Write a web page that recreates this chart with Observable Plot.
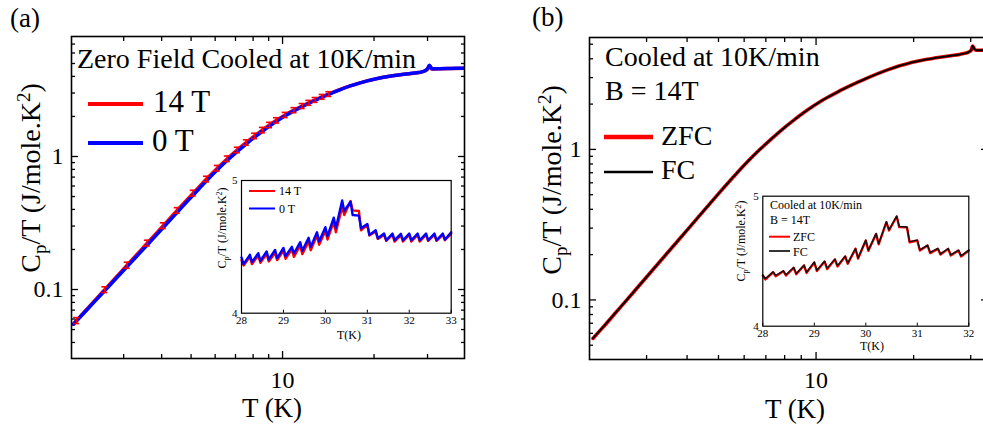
<!DOCTYPE html>
<html><head><meta charset="utf-8">
<script src="https://cdn.jsdelivr.net/npm/d3@7"></script>
<script src="https://cdn.jsdelivr.net/npm/@observablehq/plot@0.6"></script>
<style>
body{margin:0;background:#fff;}
#wrap{position:relative;width:983px;height:426px;overflow:hidden;background:#fff;font-family:'Liberation Serif',serif;}
</style></head><body><div id="wrap"></div>
<script>
// ---------------- data ----------------
// panel (a) main curves
const T_a = [2.05, 2.10, 2.2, 2.4, 2.60, 2.8, 3.08, 3.3, 3.59, 3.8, 4.05, 4.25, 4.50, 4.8, 5.08, 5.35, 5.62, 6.10, 6.58, 7.10, 7.60, 8.09, 8.58, 9.06, 9.55, 10.2, 10.9, 11.6, 12.2, 12.8, 13.5, 14.2, 15.5, 16.7, 18.0, 19.0, 20.5, 22.0, 24.4, 26.0, 27.7, 28.5, 29.3, 29.8, 30.1, 30.4, 30.7, 31.0, 31.5, 33.0, 35.0, 37.0, 39.7];
const C_a14 = [0.0550, 0.0585, 0.0657, 0.0817, 0.0998, 0.1201, 0.1524, 0.1811, 0.2236, 0.2577, 0.3022, 0.3409, 0.3933, 0.4616, 0.5307, 0.6017, 0.6773, 0.8174, 0.9621, 1.1202, 1.2748, 1.4284, 1.5805, 1.7263, 1.8702, 2.0535, 2.231, 2.397, 2.533, 2.664, 2.810, 2.948, 3.190, 3.391, 3.579, 3.701, 3.850, 3.972, 4.114, 4.188, 4.255, 4.30, 4.38, 4.47, 4.58, 4.82, 4.72, 4.55, 4.55, 4.56, 4.58, 4.59, 4.60];
const C_a0 = [0.0548, 0.0582, 0.0652, 0.0808, 0.0982, 0.1178, 0.1488, 0.1764, 0.2172, 0.2500, 0.2928, 0.3300, 0.3806, 0.4466, 0.5138, 0.5830, 0.6570, 0.7940, 0.9360, 1.0920, 1.2450, 1.3970, 1.5480, 1.6930, 1.8370, 2.0220, 2.2030, 2.3720, 2.5120, 2.6470, 2.7970, 2.9400, 3.1860, 3.3900, 3.5800, 3.7030, 3.8530, 3.9760, 4.1200, 4.1950, 4.2650, 4.3100, 4.3900, 4.5000, 4.6300, 4.8500, 4.7000, 4.5600, 4.5600, 4.5700, 4.5900, 4.6000, 4.6100];
// error bars on the 14 T curve
const errT = [2.10, 2.60, 3.08, 3.59, 4.05, 4.50, 5.08, 5.62, 6.10, 6.58, 7.10, 7.60, 8.09, 8.58, 9.06, 9.55, 10.2, 10.9, 11.6, 12.2, 12.8, 13.5, 14.2];
const errD = [0.003, 0.005, 0.008, 0.011, 0.015, 0.019, 0.026, 0.033, 0.039, 0.046, 0.053, 0.060, 0.067, 0.074, 0.080, 0.086, 0.092, 0.098, 0.104, 0.108, 0.112, 0.116, 0.120];

// panel (b) main curves
const T_b = [2.05, 2.2, 2.4, 2.6, 2.8, 3.08, 3.3, 3.59, 3.8, 4.05, 4.5, 5.08, 5.62, 6.1, 6.58, 7.1, 7.6, 8.09, 8.58, 9.06, 9.55, 10.2, 10.9, 11.6, 12.2, 12.8, 13.5, 14.2, 15.5, 16.7, 18, 19, 20.5, 22, 24.4, 26, 27.7, 28.5, 29.3, 29.8, 30.1, 30.4, 30.7, 31.0, 31.5, 32.2, 33.0];
const C_bZFC = [0.0555, 0.0657, 0.0815, 0.0993, 0.1195, 0.1515, 0.1800, 0.2220, 0.2560, 0.3000, 0.3910, 0.5280, 0.6740, 0.8150, 0.9600, 1.1180, 1.2730, 1.4270, 1.5790, 1.7250, 1.8690, 2.0520, 2.2300, 2.3950, 2.5310, 2.6620, 2.8080, 2.9460, 3.1880, 3.3900, 3.5780, 3.7000, 3.8500, 3.9720, 4.1150, 4.1950, 4.2700, 4.3300, 4.4000, 4.4800, 4.5600, 4.8600, 4.7000, 4.5800, 4.5600, 4.5600, 4.5700];
const C_bFC  = [0.0557, 0.0659, 0.0817, 0.0995, 0.1197, 0.1518, 0.1803, 0.2223, 0.2563, 0.3004, 0.3914, 0.5285, 0.6745, 0.8155, 0.9605, 1.1185, 1.2735, 1.4275, 1.5795, 1.7255, 1.8695, 2.0525, 2.2305, 2.3955, 2.5315, 2.6625, 2.8085, 2.9465, 3.1885, 3.3905, 3.5785, 3.7005, 3.8505, 3.9725, 4.1155, 4.1955, 4.2705, 4.3305, 4.4005, 4.4805, 4.5605, 4.8605, 4.7005, 4.5805, 4.5605, 4.5605, 4.5705];

// inset (a)
const T_ia = [28.00, 28.05, 28.20, 28.25, 28.40, 28.45, 28.60, 28.65, 28.80, 28.85, 29.00, 29.05, 29.20, 29.25, 29.40, 29.45, 29.60, 29.65, 29.80, 29.85, 30.00, 30.05, 30.20, 30.25, 30.40, 30.45, 30.60, 30.65, 30.80, 30.85, 31.00, 31.05, 31.20, 31.25, 31.40, 31.45, 31.60, 31.65, 31.80, 31.85, 32.00, 32.05, 32.20, 32.25, 32.40, 32.45, 32.60, 32.65, 32.80, 32.85, 33.00];
const C_ia0 = [4.42, 4.37, 4.44, 4.385, 4.452, 4.395, 4.465, 4.405, 4.477, 4.415, 4.492, 4.43, 4.50, 4.45, 4.535, 4.47, 4.568, 4.50, 4.61, 4.54, 4.648, 4.58, 4.72, 4.64, 4.85, 4.77, 4.84, 4.74, 4.735, 4.64, 4.673, 4.59, 4.625, 4.565, 4.60, 4.55, 4.60, 4.55, 4.598, 4.55, 4.60, 4.55, 4.60, 4.55, 4.60, 4.55, 4.60, 4.55, 4.60, 4.555, 4.61];
const C_ia14 = [4.40, 4.36, 4.425, 4.37, 4.435, 4.38, 4.445, 4.39, 4.455, 4.40, 4.47, 4.41, 4.48, 4.425, 4.51, 4.445, 4.54, 4.475, 4.585, 4.515, 4.62, 4.555, 4.69, 4.61, 4.80, 4.74, 4.845, 4.775, 4.77, 4.625, 4.665, 4.585, 4.615, 4.56, 4.59, 4.545, 4.59, 4.54, 4.588, 4.54, 4.59, 4.54, 4.59, 4.54, 4.59, 4.545, 4.59, 4.545, 4.59, 4.55, 4.60];

// inset (b)
const T_ib = [28.00, 28.05, 28.20, 28.25, 28.40, 28.45, 28.60, 28.65, 28.80, 28.85, 29.00, 29.05, 29.20, 29.25, 29.40, 29.45, 29.60, 29.65, 29.80, 29.85, 30.00, 30.05, 30.20, 30.25, 30.40, 30.45, 30.60, 30.65, 30.80, 30.85, 31.00, 31.05, 31.20, 31.25, 31.40, 31.45, 31.60, 31.65, 31.80, 31.85, 32.00];
const C_ibZFC = [4.39, 4.36, 4.415, 4.385, 4.423, 4.39, 4.449, 4.40, 4.467, 4.41, 4.49, 4.425, 4.497, 4.44, 4.513, 4.46, 4.536, 4.48, 4.595, 4.52, 4.659, 4.58, 4.71, 4.63, 4.80, 4.736, 4.844, 4.762, 4.76, 4.646, 4.659, 4.582, 4.62, 4.562, 4.595, 4.551, 4.595, 4.544, 4.582, 4.536, 4.582];
const C_ibFC  = [4.393, 4.365, 4.418, 4.39, 4.426, 4.395, 4.452, 4.405, 4.47, 4.415, 4.493, 4.43, 4.50, 4.445, 4.516, 4.465, 4.539, 4.485, 4.598, 4.525, 4.662, 4.585, 4.713, 4.635, 4.803, 4.741, 4.847, 4.767, 4.763, 4.651, 4.662, 4.587, 4.623, 4.567, 4.598, 4.556, 4.598, 4.549, 4.585, 4.541, 4.585];

// ticks
const xMinorTicks = [3, 4, 5, 6, 7, 8, 9, 20, 30];
const xMajorTicks = [10];
const yMinorA = [0.04, 0.05, 0.06, 0.07, 0.08, 0.09, 0.2, 0.3, 0.4, 0.5, 0.6, 0.7, 0.8, 0.9, 2, 3, 4, 5, 6, 7];
const yMinorB = [0.05, 0.06, 0.07, 0.08, 0.09, 0.2, 0.3, 0.4, 0.5, 0.6, 0.7, 0.8, 0.9, 2, 3, 4, 5];
const yMajorTicks = [0.1, 1];
const insetXA = [28, 29, 30, 31, 32, 33];
const insetXB = [28, 29, 30, 31, 32];
const insetY = [4, 5];

// ---------------- build ----------------
const fam = "'Liberation Serif', serif";
const wrap = document.getElementById("wrap");
function place(node, left, top) {
  node.style.position = "absolute";
  node.style.left = left + "px";
  node.style.top = top + "px";
  wrap.appendChild(node);
}
const rows = (T, C) => T.map((t, i) => ({T: t, C: C[i]}));
const fmt = d => String(d);

function mainAxes(yMinor, xPad, yPad) {
  const tk = {label: null, fill: "none", stroke: "black", strokeWidth: 1.3};
  return [
    Plot.axisX(xMinorTicks, {...tk, anchor: "bottom", tickSize: -4}),
    Plot.axisX(xMinorTicks, {...tk, anchor: "top", tickSize: -4}),
    Plot.axisX(xMajorTicks, {...tk, anchor: "bottom", tickSize: -7}),
    Plot.axisX(xMajorTicks, {...tk, anchor: "top", tickSize: -7}),
    Plot.axisY(yMinor, {...tk, anchor: "left", tickSize: -4}),
    Plot.axisY(yMinor, {...tk, anchor: "right", tickSize: -4}),
    Plot.axisY(yMajorTicks, {...tk, anchor: "left", tickSize: -7}),
    Plot.axisY(yMajorTicks, {...tk, anchor: "right", tickSize: -7}),
    Plot.axisX(xMajorTicks, {anchor: "bottom", tickSize: 0, tickPadding: xPad, fontSize: 24, label: null, fill: "black", tickFormat: fmt}),
    Plot.axisY(yMajorTicks, {anchor: "left", tickSize: 0, tickPadding: yPad, fontSize: 24, label: null, fill: "black", tickFormat: fmt})
  ];
}

// panel (a)
const a14 = rows(T_a, C_a14);
const a0 = rows(T_a, C_a0);
const cMap = new Map(a14.map(d => [d.T, d.C]));
const errRows = errT.map((t, i) => ({T: t, lo: cMap.get(t) - errD[i], hi: cMap.get(t) + errD[i]}));

const plotA = Plot.plot({
  width: 490, height: 426,
  marginLeft: 71, marginRight: 26, marginTop: 36, marginBottom: 68,
  x: {type: "log", domain: [2.02, 39.7], axis: null},
  y: {type: "log", domain: [0.0303, 7.98], axis: null},
  style: {background: "transparent", fontFamily: fam, overflow: "visible", color: "black"},
  marks: [
    Plot.line(a14, {x: "T", y: "C", stroke: "#ff0000", strokeWidth: 3.5, clip: true, curve: "monotone-x"}),
    Plot.line(a0, {x: "T", y: "C", stroke: "#0000ff", strokeWidth: 3.5, clip: true, curve: "monotone-x"}),
    Plot.ruleX(errRows, {x: "T", y1: "lo", y2: "hi", stroke: "#ff0000", strokeWidth: 1.6}),
    Plot.ruleY(errRows, {x1: "T", x2: "T", y: "hi", insetLeft: -3, insetRight: -3, stroke: "#ff0000", strokeWidth: 1.6}),
    Plot.ruleY(errRows, {x1: "T", x2: "T", y: "lo", insetLeft: -3, insetRight: -3, stroke: "#ff0000", strokeWidth: 1.6}),
    Plot.frame({stroke: "black", strokeWidth: 1.6}),
    ...mainAxes(yMinorA, 12, 8)
  ]
});
place(plotA, 0, 0);

// panel (b)
const plotB = Plot.plot({
  width: 505, height: 426,
  marginLeft: 99, marginRight: 8, marginTop: 37, marginBottom: 67,
  x: {type: "log", domain: [2.0, 33.8], axis: null},
  y: {type: "log", domain: [0.0402, 5.54], axis: null},
  style: {background: "transparent", fontFamily: fam, overflow: "visible", color: "black"},
  marks: [
    Plot.line(rows(T_b, C_bZFC), {x: "T", y: "C", stroke: "#ff0000", strokeWidth: 3.6, clip: true, curve: "monotone-x"}),
    Plot.line(rows(T_b, C_bFC), {x: "T", y: "C", stroke: "#000000", strokeWidth: 2.0, clip: true, curve: "monotone-x"}),
    Plot.frame({stroke: "black", strokeWidth: 1.6}),
    ...mainAxes(yMinorB, 11, 8)
  ]
});
place(plotB, 490, 0);

// insets
function inset(w, h, ml, mr, mt, mb, xdom, xt, series) {
  return Plot.plot({
    width: w, height: h, marginLeft: ml, marginRight: mr, marginTop: mt, marginBottom: mb,
    x: {domain: xdom, axis: null},
    y: {domain: [4, 5], axis: null},
    style: {background: "transparent", fontFamily: fam, overflow: "visible", color: "black"},
    marks: [
      Plot.frame({fill: "white", stroke: "none"}),
      ...series,
      Plot.frame({stroke: "black", strokeWidth: 1.2}),
      Plot.axisX(xt, {anchor: "bottom", tickSize: -3, fill: "none", label: null, stroke: "black"}),
      Plot.axisX(xt, {anchor: "bottom", tickSize: 0, tickPadding: 3, fontSize: 11, label: null, fill: "black", tickFormat: fmt}),
      Plot.axisY(insetY, {anchor: "left", tickSize: 0, tickPadding: 4, fontSize: 11, label: null, fill: "black", tickFormat: fmt})
    ]
  });
}
const insetA = inset(270, 175, 41, 19.3, 10, 32.3, [28, 33], insetXA, [
  Plot.line(rows(T_ia, C_ia14), {x: "T", y: "C", stroke: "#ff0000", strokeWidth: 2.4}),
  Plot.line(rows(T_ia, C_ia0), {x: "T", y: "C", stroke: "#0000ff", strokeWidth: 2.4})
]);
place(insetA, 200, 170);
const insetB = inset(283, 175, 62.3, 14.7, 10.7, 34.3, [28, 32], insetXB, [
  Plot.line(rows(T_ib, C_ibZFC), {x: "T", y: "C", stroke: "#ff0000", strokeWidth: 2.4}),
  Plot.line(rows(T_ib, C_ibFC), {x: "T", y: "C", stroke: "#111111", strokeWidth: 1.4})
]);
place(insetB, 700, 185);

// ---------------- text overlay ----------------
const ylab = (x, y, fs, sub, shift) =>
  `<text transform="translate(${x},${y}) rotate(-90)" text-anchor="middle" font-size="${fs}">C<tspan font-size="${sub}" dy="${shift}">p</tspan><tspan dy="${-shift}">/T (J/mole.K</tspan><tspan font-size="${sub}" dy="${-shift * 1.7}">2</tspan><tspan dy="${shift * 1.7}">)</tspan></text>`;
const svgNS = "http://www.w3.org/2000/svg";
const ov = document.createElementNS(svgNS, "svg");
ov.setAttribute("width", 983); ov.setAttribute("height", 426);
ov.style.pointerEvents = "none";
ov.style.fontFamily = fam;
ov.innerHTML = `
<g fill="black">
<text x="10" y="27" font-size="27">(a)</text>
<text x="532" y="26" font-size="27">(b)</text>
<text x="77" y="68" font-size="28">Zero Field Cooled at 10K/min</text>
<line x1="88" x2="143" y1="104" y2="104" stroke="#ff0000" stroke-width="4"/>
<text x="153" y="112" font-size="31">14 T</text>
<line x1="88" x2="143" y1="143" y2="143" stroke="#0000ff" stroke-width="4"/>
<text x="152" y="151" font-size="31">0 T</text>
${ylab(40, 178, 28, 19, 6)}
<text x="272" y="417" font-size="27" text-anchor="middle">T (K)</text>

<text x="605" y="66" font-size="28">Cooled at 10K/min</text>
<text x="605" y="100" font-size="28">B = 14T</text>
<line x1="604" x2="653" y1="137" y2="137" stroke="#ff0000" stroke-width="4.5"/>
<text x="661" y="145" font-size="28">ZFC</text>
<line x1="604" x2="653" y1="172" y2="172" stroke="#000" stroke-width="2.5"/>
<text x="661" y="179" font-size="28">FC</text>
${ylab(561, 180, 28, 19, 6)}
<text x="795" y="418" font-size="27" text-anchor="middle">T (K)</text>

<line x1="249" x2="275" y1="191" y2="191" stroke="#ff0000" stroke-width="2"/>
<text x="279" y="195" font-size="12">14 T</text>
<line x1="249" x2="275" y1="208.5" y2="208.5" stroke="#0000ff" stroke-width="2"/>
<text x="279" y="212.5" font-size="12">0 T</text>
${ylab(226, 228, 12, 8, 2.5)}
<text x="349" y="339" font-size="12" text-anchor="middle">T(K)</text>

<text x="770" y="209" font-size="12">Cooled at 10K/min</text>
<text x="770" y="224" font-size="12">B = 14T</text>
<line x1="769" x2="790" y1="236.7" y2="236.7" stroke="#ff0000" stroke-width="2"/>
<text x="793" y="241" font-size="12">ZFC</text>
<line x1="769" x2="790" y1="251" y2="251" stroke="#333" stroke-width="2"/>
<text x="793" y="255.5" font-size="12">FC</text>
${ylab(745, 241, 12, 8, 2.5)}
<text x="872" y="350" font-size="12" text-anchor="middle">T(K)</text>
</g>`;
place(ov, 0, 0);
</script>
</body></html>
